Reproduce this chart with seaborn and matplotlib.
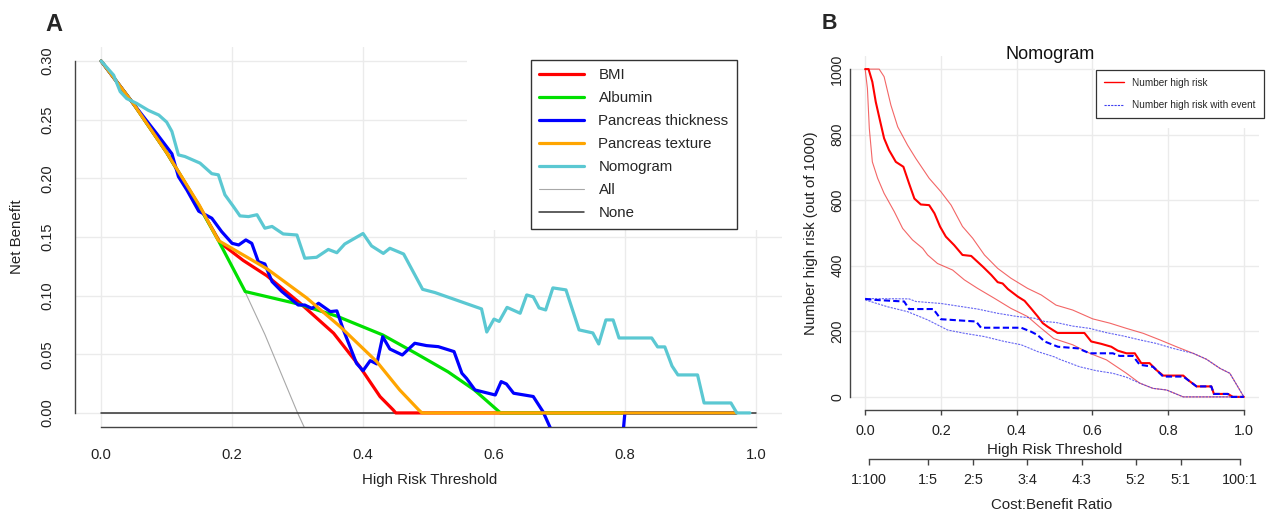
import matplotlib
matplotlib.use('Agg')
from matplotlib import pyplot as plt
from matplotlib.patches import Rectangle
from matplotlib.lines import Line2D
import seaborn as sns

# ---------------------------------------------------------------------------
# data
# ---------------------------------------------------------------------------

# panel A - decision curves (net benefit)
all_x = [0.0, 0.05, 0.10, 0.15, 0.20, 0.22, 0.25, 0.30, 0.31]
all_y = [0.30, 0.263, 0.222, 0.176, 0.125, 0.103, 0.067, 0.0, -0.012]

none_x = [0.0, 1.0]
none_y = [0.0, 0.0]

bmi_x = [0.0, 0.05, 0.10, 0.15, 0.182, 0.217, 0.253, 0.304, 0.355, 0.395, 0.426, 0.446, 0.45, 0.97]
bmi_y = [0.30, 0.263, 0.222, 0.176, 0.145, 0.130, 0.117, 0.0935, 0.068, 0.0395, 0.0139, 0.0026, 0.0, 0.0]

alb_x = [0.0, 0.05, 0.10, 0.15, 0.18, 0.22, 0.30, 0.36, 0.43, 0.48, 0.53, 0.57, 0.61, 0.97]
alb_y = [0.30, 0.263, 0.222, 0.176, 0.146, 0.1035, 0.093, 0.0825, 0.0665, 0.051, 0.035, 0.0196, 0.0, 0.0]

thick_x = [0.0, 0.05, 0.085, 0.108, 0.118, 0.131, 0.149, 0.169, 0.184, 0.200, 0.210, 0.221, 0.230,
           0.240, 0.250, 0.261, 0.276, 0.301, 0.311, 0.322, 0.332, 0.350, 0.360, 0.370, 0.390,
           0.400, 0.411, 0.421, 0.430, 0.441, 0.460, 0.479, 0.497, 0.515, 0.539, 0.551, 0.558,
           0.571, 0.602, 0.611, 0.619, 0.630, 0.660, 0.675, 0.70, 0.795, 0.80, 0.97]
thick_y = [0.30, 0.263, 0.238, 0.221, 0.2015, 0.190, 0.172, 0.166, 0.1546, 0.1446, 0.1432, 0.1475, 0.1446,
           0.129, 0.127, 0.112, 0.1035, 0.092, 0.092, 0.089, 0.0935, 0.0864, 0.087, 0.0708, 0.0423,
           0.036, 0.0446, 0.0418, 0.065, 0.0545, 0.0494, 0.0594, 0.0574, 0.0565, 0.0523, 0.0338, 0.0295,
           0.0196, 0.0153, 0.0267, 0.0247, 0.0168, 0.014, 0.001, -0.03, -0.03, 0.0, 0.0]

tex_x = [0.0, 0.05, 0.10, 0.15, 0.179, 0.253, 0.314, 0.365, 0.421, 0.456, 0.485, 0.49, 0.97]
tex_y = [0.30, 0.263, 0.222, 0.177, 0.147, 0.123, 0.098, 0.0736, 0.0437, 0.0196, 0.0026, 0.0, 0.0]

nomo_x = [0.0, 0.019, 0.029, 0.039, 0.054, 0.072, 0.088, 0.100, 0.108, 0.118,
          0.128, 0.151, 0.169, 0.179, 0.189, 0.202, 0.212, 0.225, 0.238, 0.250,
          0.261, 0.278, 0.299, 0.311, 0.329, 0.347, 0.360, 0.372, 0.400, 0.413,
          0.431, 0.441, 0.462, 0.491, 0.510, 0.581, 0.589, 0.600, 0.608, 0.620,
          0.640, 0.650, 0.660, 0.669, 0.679, 0.690, 0.710, 0.730, 0.751, 0.760,
          0.771, 0.782, 0.791, 0.841, 0.850, 0.861, 0.872, 0.881, 0.911, 0.921,
          0.962, 0.971, 0.991]
nomo_y = [0.300, 0.288, 0.274, 0.268, 0.264, 0.258, 0.254, 0.248, 0.240, 0.220,
          0.2186, 0.213, 0.204, 0.203, 0.186, 0.176, 0.168, 0.1674, 0.169, 0.1575,
          0.159, 0.1526, 0.1517, 0.1319, 0.1327, 0.1394, 0.1366, 0.144, 0.153, 0.1424,
          0.136, 0.1404, 0.1355, 0.1054, 0.1026, 0.0887, 0.069, 0.080, 0.078, 0.090,
          0.085, 0.1006, 0.099, 0.0895, 0.0878, 0.1066, 0.1049, 0.0708, 0.0682, 0.0588,
          0.0793, 0.0793, 0.0639, 0.0639, 0.0563, 0.0563, 0.040, 0.0324, 0.0324, 0.0085,
          0.0085, 0.0, 0.0]

model_names = ['BMI', 'Albumin', 'Pancreas thickness', 'Pancreas texture', 'Nomogram']
model_colors = ['#FF0000', '#00E000', '#0000FF', '#FFA500', '#5BC8D2']

# panel B - clinical impact curve (out of 1000)
risk_x = [0.0, 0.009, 0.019, 0.028, 0.040, 0.050, 0.063, 0.081, 0.101, 0.116,
          0.130, 0.147, 0.169, 0.183, 0.198, 0.213, 0.235, 0.257, 0.280, 0.311,
          0.333, 0.350, 0.363, 0.377, 0.403, 0.421, 0.438, 0.456, 0.469, 0.482,
          0.508, 0.579, 0.597, 0.623, 0.650, 0.667, 0.690, 0.712, 0.729, 0.751,
          0.769, 0.787, 0.840, 0.852, 0.875, 0.914, 0.921, 0.958, 0.971, 1.0]
risk_y = [1000, 1000, 961, 900, 839, 789, 753, 717, 702, 651,
          605, 587, 585, 560, 519, 489, 463, 433, 430, 397,
          372, 350, 346, 329, 306, 293, 270, 245, 225, 214,
          195, 195, 169, 162, 153, 141, 133, 133, 103, 103,
          82, 65, 65, 52, 32, 32, 9, 9, 0, 0]

risk_hi_x = [0.0, 0.037, 0.050, 0.068, 0.086, 0.112, 0.134, 0.169, 0.200, 0.227,
             0.257, 0.284, 0.315, 0.350, 0.385, 0.429, 0.465, 0.504, 0.548, 0.601,
             0.646, 0.690, 0.734, 0.778, 0.822, 0.866, 0.901, 0.937, 0.963, 1.0]
risk_hi_y = [1000, 1000, 977, 890, 824, 768, 727, 667, 626, 585,
             520, 484, 433, 392, 362, 331, 311, 280, 265, 238,
             225, 209, 194, 174, 153, 133, 115, 87, 72, 0]

risk_lo_x = [0.0, 0.006, 0.011, 0.019, 0.033, 0.050, 0.077, 0.099, 0.125, 0.152,
             0.165, 0.191, 0.231, 0.262, 0.297, 0.341, 0.385, 0.429, 0.460, 0.498,
             0.548, 0.593, 0.637, 0.690, 0.725, 0.760, 0.796, 0.840, 1.0]
risk_lo_y = [1000, 941, 819, 717, 667, 621, 565, 514, 479, 453,
             433, 407, 387, 357, 331, 301, 270, 245, 214, 178,
             159, 133, 113, 72, 42, 26, 21, 0, 0]

event_x = [0.0, 0.024, 0.103, 0.116, 0.180, 0.200, 0.293, 0.306, 0.412, 0.438,
           0.455, 0.474, 0.509, 0.562, 0.593, 0.654, 0.672, 0.707, 0.725, 0.760,
           0.787, 0.840, 0.852, 0.875, 0.914, 0.921, 0.958, 0.965, 1.0]
event_y = [299, 296, 291, 268, 268, 237, 230, 211, 211, 199,
           189, 169, 153, 148, 133, 133, 125, 125, 98, 92,
           62, 62, 52, 32, 32, 9, 9, 0, 0]

event_hi_x = [0.0, 0.116, 0.134, 0.200, 0.297, 0.350, 0.403, 0.447, 0.474, 0.504,
              0.548, 0.593, 0.637, 0.681, 0.725, 0.769, 0.813, 0.866, 0.901, 0.937,
              0.963, 1.0]
event_hi_y = [300, 299, 291, 285, 268, 255, 245, 240, 230, 227,
              216, 209, 196, 186, 174, 163, 148, 133, 115, 87,
              72, 0]

event_lo_x = [0.0, 0.059, 0.112, 0.165, 0.218, 0.262, 0.315, 0.368, 0.412, 0.456,
              0.5, 0.513, 0.566, 0.610, 0.654, 0.690, 0.725, 0.760, 0.796, 0.840, 1.0]
event_lo_y = [296, 275, 260, 235, 204, 194, 184, 169, 159, 138,
              122, 115, 92, 80, 72, 60, 42, 26, 21, 0, 0]

ratio_labels = ['1:100', '1:5', '2:5', '3:4', '4:3', '5:2', '5:1', '100:1']
ratio_pos = [0.0099, 0.1667, 0.2857, 0.4286, 0.5714, 0.7143, 0.8333, 0.9901]

# ---------------------------------------------------------------------------
# style
# ---------------------------------------------------------------------------
sns.set_style('white')
plt.rcParams['font.family'] = ['Liberation Sans', 'DejaVu Sans']

GRID = '#EBEBEB'
AXC = '#444444'
W, H = 1266, 513


def draw(ax, x, y, color, lw, z=2, alpha=1.0, ls=None):
    sns.lineplot(x=x, y=y, ax=ax, color=color, linewidth=lw, estimator=None,
                 sort=False, legend=False, zorder=z, alpha=alpha)
    line = ax.get_lines()[-1]
    if ls is not None:
        line.set_linestyle(ls)
    line.set_solid_joinstyle('round')
    return line


def r_axes(ax):
    for s in ['top', 'right']:
        ax.spines[s].set_visible(False)
    for s in ['left', 'bottom']:
        ax.spines[s].set_color(AXC)
        ax.spines[s].set_linewidth(1.0)
    ax.grid(True, color=GRID, linewidth=1.0)
    ax.set_axisbelow(True)


fig = plt.figure(figsize=(W / 100, H / 100), dpi=100)

# ---------------------------------------------------------------------------
# panel A
# ---------------------------------------------------------------------------
axA = fig.add_axes([75 / W, 1 - 427 / H, (782 - 75) / W, (427 - 47) / H])
r_axes(axA)

draw(axA, all_x, all_y, '#A8A8A8', 0.8, z=2)
draw(axA, none_x, none_y, '#333333', 1.1, z=2)
series_a = [(bmi_x, bmi_y), (alb_x, alb_y), (thick_x, thick_y), (tex_x, tex_y), (nomo_x, nomo_y)]
for (sx, sy), col in zip(series_a, model_colors):
    draw(axA, sx, sy, col, 2.3, z=3)

axA.set_xlim(-0.04, 1.04)
axA.set_ylim(-0.012, 0.312)
axA.set_xticks([0.0, 0.2, 0.4, 0.6, 0.8, 1.0], ['0.0', '0.2', '0.4', '0.6', '0.8', '1.0'])
axA.set_yticks([0.0, 0.05, 0.10, 0.15, 0.20, 0.25, 0.30],
               ['0.00', '0.05', '0.10', '0.15', '0.20', '0.25', '0.30'])
axA.spines['left'].set_bounds(0.0, 0.30)
axA.spines['bottom'].set_bounds(0.0, 1.0)
axA.tick_params(axis='x', length=5.8, width=1, pad=9, labelsize=10.7, color=AXC, labelcolor='#222222')
axA.tick_params(axis='y', length=6.2, width=1, pad=9, labelsize=10.5, color=AXC, labelcolor='#222222',
                labelrotation=90)
for t in axA.get_yticklabels():
    t.set_va('center')

axA.set_xlabel('High Risk Threshold', fontsize=10.8, color='#222222')
axA.xaxis.label.set_va('center')
axA.xaxis.set_label_coords(0.502, -0.139)
axA.set_ylabel('Net Benefit', fontsize=10.8, color='#222222')
axA.yaxis.label.set_va('center')
axA.yaxis.set_label_coords(-0.082, 0.5)

# white patch behind the legend (hides the grid there)
axA.add_patch(Rectangle((0.559, 0.156), 0.49, 0.16, facecolor='white', edgecolor='none', zorder=1))

handles = [Line2D([0], [0], color=c, lw=2.3) for c in model_colors]
handles += [Line2D([0], [0], color='#A8A8A8', lw=0.8), Line2D([0], [0], color='#333333', lw=1.1)]
labels = model_names + ['All', 'None']
legA = axA.legend(handles, labels, loc='upper left', bbox_to_anchor=(531 / W, 1 - 60 / H),
                  bbox_transform=fig.transFigure, frameon=True, fancybox=False, edgecolor='#333333',
                  framealpha=1, borderaxespad=0, fontsize=10.8, handlelength=2.95,
                  handletextpad=1.0, labelspacing=0.6, borderpad=0.55)
legA.get_frame().set_linewidth(1.0)
legA.set_zorder(5)

fig.text(45 / W, 1 - 31 / H, 'A', fontsize=17, fontweight='bold', ha='left', va='baseline')

# ---------------------------------------------------------------------------
# panel B
# ---------------------------------------------------------------------------
axB = fig.add_axes([850 / W, 1 - 410 / H, (1259 - 850) / W, (410 - 56) / H])
r_axes(axB)

draw(axB, risk_hi_x, risk_hi_y, '#F04040', 0.8, z=2, alpha=0.8)
draw(axB, risk_lo_x, risk_lo_y, '#F04040', 0.8, z=2, alpha=0.8)
draw(axB, risk_x, risk_y, '#FF0000', 1.5, z=3)
draw(axB, event_hi_x, event_hi_y, '#4040F0', 0.8, z=4, alpha=0.8, ls=(0, (2, 1)))
draw(axB, event_lo_x, event_lo_y, '#4040F0', 0.8, z=4, alpha=0.8, ls=(0, (2, 1)))
draw(axB, event_x, event_y, '#0000FF', 1.5, z=5, ls=(0, (3, 1.5)))

axB.set_xlim(-0.04, 1.04)
axB.set_ylim(-40, 1040)
axB.set_xticks([0.0, 0.2, 0.4, 0.6, 0.8, 1.0], ['0.0', '0.2', '0.4', '0.6', '0.8', '1.0'])
axB.set_yticks([0, 200, 400, 600, 800, 1000], ['0', '200', '400', '600', '800', '1000'])
axB.spines['left'].set_bounds(0, 1000)
axB.spines['bottom'].set_bounds(0.0, 1.0)
axB.tick_params(axis='x', length=3.6, width=1, pad=6.5, labelsize=10.4, color=AXC, labelcolor='#222222')
axB.tick_params(axis='y', length=3.6, width=1, pad=0.5, labelsize=10.2, color=AXC, labelcolor='#222222',
                labelrotation=90)
for t in axB.get_yticklabels():
    t.set_va('center')

axB.set_xlabel('High Risk Threshold', fontsize=10.8, color='#222222')
axB.xaxis.label.set_va('center')
axB.xaxis.set_label_coords(0.501, -0.112)
axB.set_ylabel('Number high risk (out of 1000)', fontsize=10.8, color='#222222')
axB.yaxis.label.set_va('center')
axB.yaxis.set_label_coords(-0.095, 0.5)

axB.add_patch(Rectangle((0.608, 820), 0.44, 230, facecolor='white', edgecolor='none', zorder=1))

handlesB = [Line2D([0], [0], color='#FF0000', lw=1.0),
            Line2D([0], [0], color='#4040F0', lw=0.8, ls=(0, (2, 1)))]
legB = axB.legend(handlesB, ['Number high risk', 'Number high risk with event'], loc='upper left',
                  bbox_to_anchor=(1096 / W, 1 - 70 / H), bbox_transform=fig.transFigure,
                  frameon=True, fancybox=False, edgecolor='#333333', framealpha=1, borderaxespad=0,
                  fontsize=7.2, handlelength=2.0, handletextpad=0.9, labelspacing=1.3, borderpad=0.75)
legB.get_frame().set_linewidth(0.9)
legB.set_zorder(6)

fig.text(1050 / W, 1 - 55 / H, 'Nomogram', fontsize=13, ha='center', va='center', color='#111111')
fig.text(822 / W, 1 - 29 / H, 'B', fontsize=15.5, fontweight='bold', ha='left', va='baseline')

# cost:benefit axis under panel B
ax2 = axB.twiny()
ax2.set_xlim(axB.get_xlim())
ax2.grid(False)
ax2.xaxis.set_ticks_position('bottom')
ax2.xaxis.set_label_position('bottom')
for s in ['top', 'right', 'left']:
    ax2.spines[s].set_visible(False)
ax2.spines['bottom'].set_position(('outward', 35.3))
ax2.spines['bottom'].set_bounds(ratio_pos[0], ratio_pos[-1])
ax2.spines['bottom'].set_color(AXC)
ax2.spines['bottom'].set_linewidth(1.0)
ax2.set_xticks(ratio_pos, ratio_labels)
ax2.tick_params(axis='x', length=4.3, width=1, pad=5.5, labelsize=10.4, color=AXC, labelcolor='#222222')
ax2.set_xlabel('Cost:Benefit Ratio', fontsize=10.8, color='#222222')
ax2.xaxis.label.set_va('center')
ax2.xaxis.set_label_coords(0.494, -0.268)

fig.savefig('out.png', dpi=100)
